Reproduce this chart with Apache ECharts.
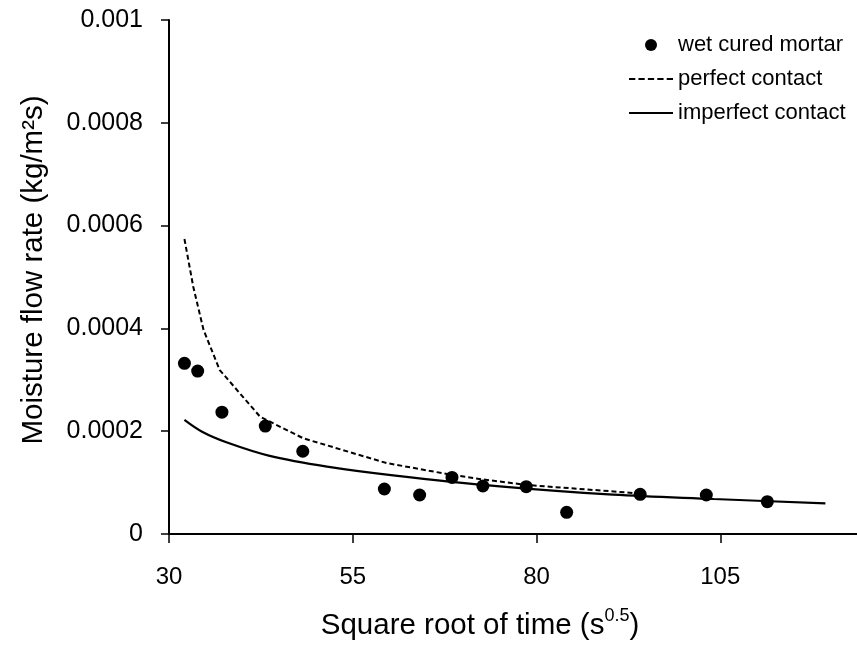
<!DOCTYPE html>
<html>
<head>
<meta charset="utf-8">
<title>Moisture flow rate</title>
<script src="https://cdn.jsdelivr.net/npm/echarts@6/dist/echarts.min.js"></script>
<style>
  html, body { margin: 0; padding: 0; background: #fff; }
  #chart { width: 857px; height: 646px; }
</style>
</head>
<body>
<div id="chart"></div>
<script>
// Measured moisture flow rate, wet cured mortar
const mortarX = [32.1, 33.9, 37.2, 43.1, 48.2, 59.3, 64.1, 68.5, 72.7, 78.6, 84.1, 94.1, 103.1, 111.4];
const mortarY = [0.000332, 0.000317, 0.000237, 0.000210, 0.000161, 0.0000875, 0.0000759, 0.000110,
                 0.0000934, 0.0000920, 0.0000422, 0.0000772, 0.0000759, 0.0000628];

// Model, perfect hydraulic contact
const perfectX = [32.1, 33.3, 34.7, 36.9, 42.4, 48.3, 59.6, 68.5, 72.8, 78.7, 92.7, 94.1];
const perfectY = [0.000574, 0.000481, 0.000397, 0.000319, 0.000228, 0.000186, 0.000138, 0.000115,
                  0.000106, 0.0000953, 0.0000804, 0.0000778];

// Model, imperfect hydraulic contact
const imperfectX = [32.1, 34.5, 37.9, 43.7, 51.5, 60.5, 75.0, 90.4, 104.1, 119.3];
const imperfectY = [0.000222, 0.000199, 0.000178, 0.000152, 0.000131, 0.000114, 0.0000925, 0.0000765,
                    0.0000681, 0.0000595];

const xTickLabels = ['30', '55', '80', '105'];
const yTickLabels = ['0', '0.0002', '0.0004', '0.0006', '0.0008', '0.001'];

const zip = (xs, ys) => xs.map((x, i) => [x, ys[i]]);

const FONT = '"Liberation Sans", Arial, sans-serif';

// Legend glyphs: a short solid bar and a row of five dashes
const SOLID_ICON = 'path://M0,0H44V2.2H0Z';
const DASH_ICON = 'path://M0,0H6V2H0Z M9,0H15V2H9Z M18,0H24V2H18Z M27,0H33V2H27Z M36,0H42V2H36Z';

const chart = echarts.init(document.getElementById('chart'), null, { renderer: 'canvas' });

chart.setOption({
  animation: false,
  backgroundColor: '#fff',
  textStyle: { fontFamily: FONT, color: '#000' },
  grid: { left: 169, right: 0, top: 20, bottom: 112, containLabel: false },
  legend: {
    orient: 'vertical',
    left: 629,
    top: 34,
    padding: 0,
    itemWidth: 44,
    itemHeight: 12,
    itemGap: 12,
    textStyle: { fontFamily: FONT, fontSize: 22, color: '#000', lineHeight: 22 },
    data: [
      { name: 'wet cured mortar', icon: 'circle' },
      { name: 'perfect contact', icon: DASH_ICON },
      { name: 'imperfect contact', icon: SOLID_ICON }
    ]
  },
  xAxis: {
    type: 'value',
    min: 30,
    max: 123.6,
    interval: 25,
    splitLine: { show: false },
    axisLine: { lineStyle: { color: '#000', width: 2 } },
    axisTick: { length: 9, lineStyle: { color: '#000', width: 1.5 } },
    axisLabel: {
      margin: 31,
      fontSize: 24,
      color: '#000',
      fontFamily: FONT,
      showMaxLabel: false,
      formatter: v => {
        const i = Math.round((v - 30) / 25);
        return Math.abs(v - (30 + 25 * i)) < 1e-6 ? (xTickLabels[i] || '') : '';
      }
    },
    name: '{a|Square root of time (s}{s|0.5}{a|)}',
    nameLocation: 'middle',
    nameGap: 73,
    nameTextStyle: {
      padding: [0, 66, 0, 0],
      rich: {
        a: { fontSize: 29.5, fontFamily: FONT, color: '#000', lineHeight: 34, verticalAlign: 'bottom' },
        s: { fontSize: 18, fontFamily: FONT, color: '#000', lineHeight: 34, verticalAlign: 'top' }
      }
    }
  },
  yAxis: {
    type: 'value',
    min: 0,
    max: 0.001,
    interval: 0.0002,
    splitLine: { show: false },
    axisLine: { show: true, lineStyle: { color: '#000', width: 2 } },
    axisTick: { show: true, length: 8, lineStyle: { color: '#000', width: 1.5 } },
    axisLabel: {
      margin: 26,
      fontSize: 25,
      color: '#000',
      fontFamily: FONT,
      formatter: v => yTickLabels[Math.round(v / 0.0002)] || ''
    },
    name: 'Moisture flow rate (kg/m²s)',
    nameLocation: 'middle',
    nameRotate: 90,
    nameGap: 120,
    nameTextStyle: { fontSize: 29.5, fontFamily: FONT, color: '#000', padding: [0, 0, 0, 14] }
  },
  series: [
    {
      name: 'wet cured mortar',
      type: 'scatter',
      symbol: 'circle',
      symbolSize: 13,
      itemStyle: { color: '#000', opacity: 1 },
      data: zip(mortarX, mortarY),
      z: 5
    },
    {
      name: 'perfect contact',
      type: 'line',
      symbol: 'none',
      smooth: false,
      lineStyle: { color: '#000', width: 2, type: [5, 3] },
      itemStyle: { color: '#000' },
      data: zip(perfectX, perfectY)
    },
    {
      name: 'imperfect contact',
      type: 'line',
      symbol: 'none',
      smooth: 0.35,
      lineStyle: { color: '#000', width: 2.2 },
      itemStyle: { color: '#000' },
      data: zip(imperfectX, imperfectY)
    }
  ]
});
</script>
</body>
</html>
